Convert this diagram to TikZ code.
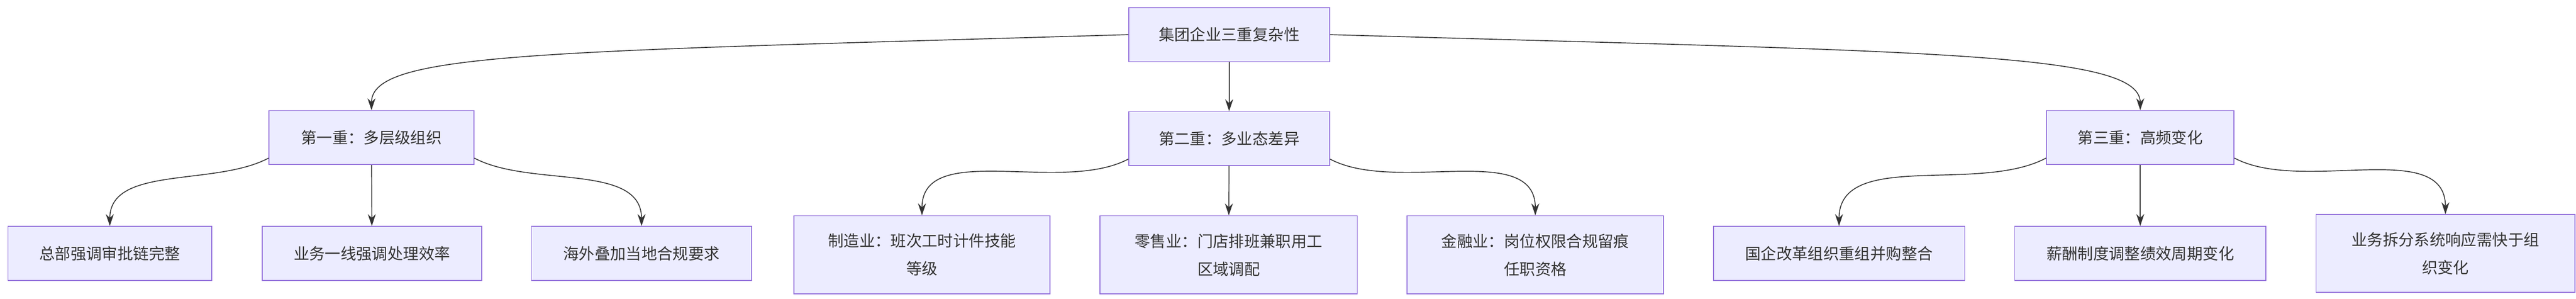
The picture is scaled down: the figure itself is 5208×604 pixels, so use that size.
\documentclass[tikz,border=0pt]{standalone}
\usepackage{fontspec}
\setmainfont{Noto Sans CJK SC}
\usetikzlibrary{positioning,arrows.meta}
\definecolor{boxfill}{HTML}{ECECFF}
\definecolor{boxline}{HTML}{9370DB}
\definecolor{edgecol}{HTML}{333333}
\tikzset{
  box/.style={draw=boxline, fill=boxfill, line width=0.5pt, align=center,
    font=\fontsize{9}{16}\selectfont, text=edgecol, inner sep=0pt,
    minimum height=1.09cm},
  link/.style={draw=edgecol, line width=0.5pt, -{Stealth[length=2.4mm,width=1.6mm]}}
}
\begin{document}
\begin{tikzpicture}[x=0.1mm,y=-0.1mm]
  \useasboundingbox (0,0) rectangle (5208,604);
  % root and the three layers
  \node[box, minimum width=4.06cm] (root) at (2485,70) {集团企业三重复杂性};
  \node[box, minimum width=4.14cm] (layerA) at (751,278) {第一重：多层级组织};
  \node[box, minimum width=4.06cm] (layerB) at (2485,280) {第二重：多业态差异};
  \node[box, minimum width=3.79cm] (layerC) at (4327,278) {第三重：高频变化};
  % leaves
  \node[box, minimum width=4.12cm] (a1) at (222,512) {总部强调审批链完整};
  \node[box, minimum width=4.44cm] (a2) at (752,512) {业务一线强调处理效率};
  \node[box, minimum width=4.45cm] (a3) at (1297,512) {海外叠加当地合规要求};
  \node[box, minimum width=5.18cm, minimum height=1.58cm] (b1) at (1864,515) {制造业：班次工时计件技能\\等级};
  \node[box, minimum width=5.20cm, minimum height=1.58cm] (b2) at (2484,515) {零售业：门店排班兼职用工\\区域调配};
  \node[box, minimum width=5.19cm, minimum height=1.58cm] (b3) at (3104,515) {金融业：岗位权限合规留痕\\任职资格};
  \node[box, minimum width=5.08cm] (c1) at (3718,512) {国企改革组织重组并购整合};
  \node[box, minimum width=5.08cm] (c2) at (4327,512) {薪酬制度调整绩效周期变化};
  \node[box, minimum width=5.23cm, minimum height=1.57cm] (c3) at (4944,512) {业务拆分系统响应需快于组\\织变化};
  % connectors
  \draw[link] (root.west) .. controls (1100,105) and (751,105) .. (layerA.north);
  \draw[link] (root) -- (layerB);
  \draw[link] (root.east) .. controls (3900,105) and (4327,105) .. (layerC.north);
  \foreach \p/\l/\m/\r in {layerA/a1/a2/a3, layerB/b1/b2/b3, layerC/c1/c2/c3} {
    \draw[link] ([yshift=1.4mm]\p.south west) to[out=208,in=90,looseness=0.9] (\l.north);
    \draw[link] (\p) -- (\m);
    \draw[link] ([yshift=1.4mm]\p.south east) to[out=-28,in=90,looseness=0.9] (\r.north);
  }
\end{tikzpicture}
\end{document}
